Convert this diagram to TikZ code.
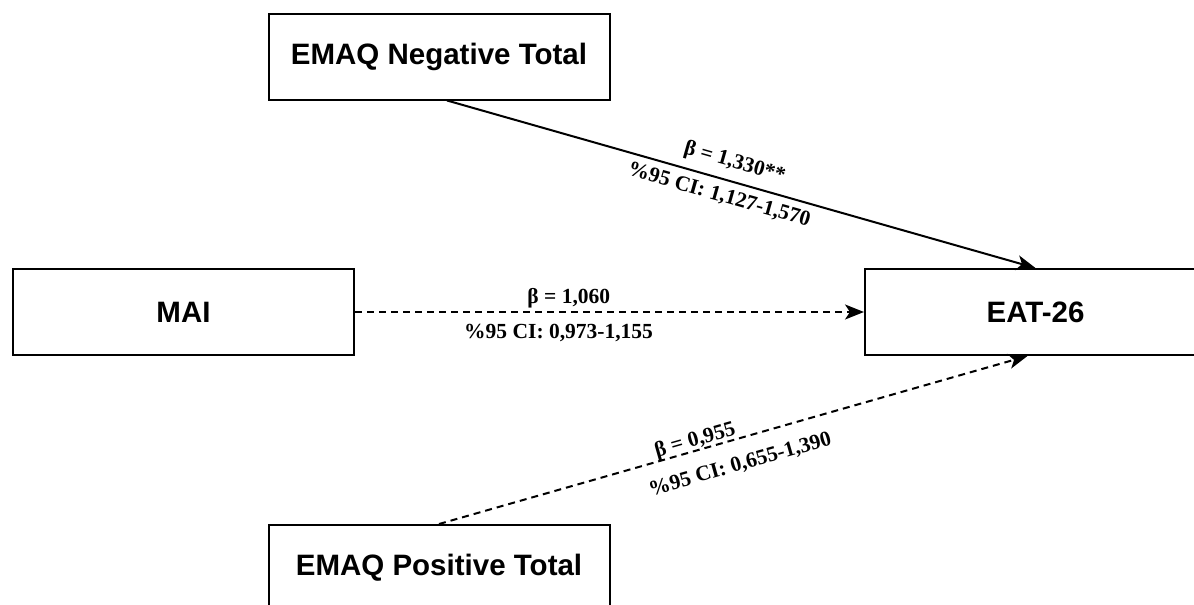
\documentclass[tikz,border=0pt]{standalone}
\usepackage{fontspec}
\setmainfont{Liberation Serif}
\newfontfamily\boxfont{Liberation Sans}
\usetikzlibrary{arrows.meta}

\begin{document}
\begin{tikzpicture}[x=1pt, y=-1pt,
		varbox/.style={rectangle, draw=black, line width=2pt, minimum width=341pt, minimum height=86pt, inner sep=0pt, font=\boxfont\bfseries\fontsize{29.5}{31}\selectfont},
		path/.style={line width=2pt, -{Stealth[length=19pt, width=15pt, inset=5pt]}},
		nonsig/.style={path, dash pattern=on 7pt off 5pt},
		coef/.style={font=\bfseries\fontsize{21.5}{23}\selectfont, inner sep=2pt}]
	\useasboundingbox (0,0) rectangle (1194,605);
	\clip (0,0) rectangle (1194,605);
	\fill[white] (0,0) rectangle (1194,605);

	% Predictors
	\node[varbox] (neg) at (439,56.5) {EMAQ Negative Total};
	\node[varbox] (mai) at (183.5,312) {MAI};
	\node[varbox] (pos) at (439,568) {EMAQ Positive Total};

	% Outcome
	\node[varbox] (eat) at (1035.5,312) {EAT-26};

	% Paths with coefficients
	\draw[path] ([xshift=8pt]neg.south) -- node[coef, pos=0.48, above=6pt, sloped] {β = 1,330**} node[coef, pos=0.47, below=5pt, sloped] {\%95 CI: 1,127-1,570} (eat.north);
	\draw[nonsig] (mai.east) -- node[coef, pos=0.42, above=1pt] {β = 1,060} node[coef, pos=0.40, below=9pt] {\%95 CI: 0,973-1,155} (eat.west);
	\draw[nonsig] (pos.north) -- node[coef, pos=0.44, above=-3pt, sloped] {β = 0,955} node[coef, pos=0.50, below=14pt, sloped] {\%95 CI: 0,655-1,390} ([xshift=-8pt]eat.south);

\end{tikzpicture}
\end{document}
